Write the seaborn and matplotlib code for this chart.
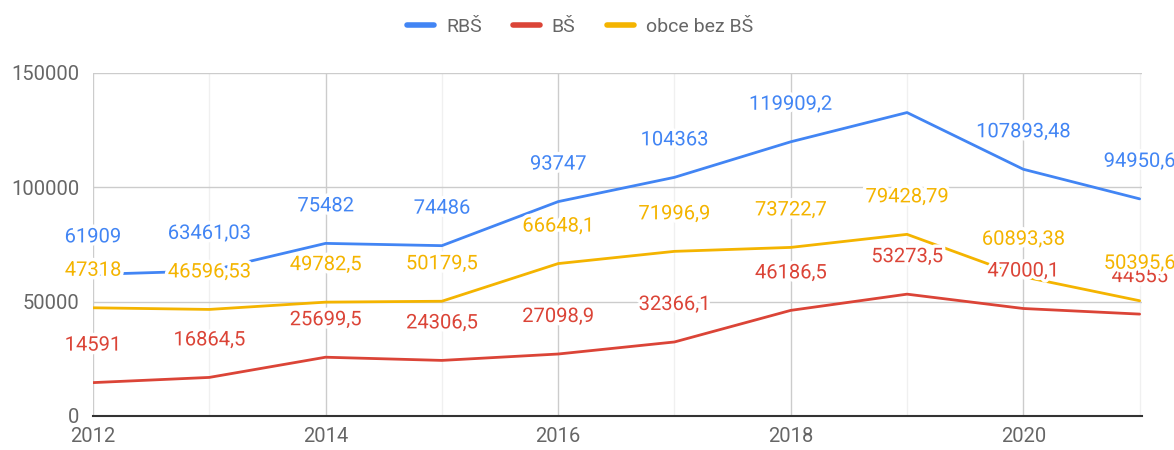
import pandas as pd
import seaborn as sns
import matplotlib.pyplot as plt
import matplotlib.patheffects as pe
from matplotlib.lines import Line2D

years = [2012, 2013, 2014, 2015, 2016, 2017, 2018, 2019, 2020, 2021]
rbs = [61909, 63461.03, 75482, 74486, 93747, 104363, 119909.2, 132702.29, 107893.48, 94950.6]
bs = [14591, 16864.5, 25699.5, 24306.5, 27098.9, 32366.1, 46186.5, 53273.5, 47000.1, 44555]
obce = [47318, 46596.53, 49782.5, 50179.5, 66648.1, 71996.9, 73722.7, 79428.79, 60893.38, 50395.6]

series = ["RBŠ", "BŠ", "obce bez BŠ"]
colors = ["#4285f4", "#db4437", "#f4b400"]
# the chart leaves out the RBŠ label for 2019
hidden_labels = {("RBŠ", 2019)}

df = pd.concat([
    pd.DataFrame({"rok": years, "hodnota": vals, "serie": name})
    for name, vals in zip(series, [rbs, bs, obce])
])

sns.set_theme(style="white")
plt.rcParams["font.family"] = ["Roboto", "DejaVu Sans"]

fig = plt.figure(figsize=(11.74, 4.5), dpi=100)
ax = fig.add_axes([0.0792, 0.0756, 0.8935, 0.7622])

sns.lineplot(data=df, x="rok", y="hodnota", hue="serie", hue_order=series,
             palette=colors, linewidth=2.0, ax=ax, legend=False, zorder=3)

def fmt(v):
    s = f"{v:.2f}".rstrip("0").rstrip(".")
    return s.replace(".", ",")

for name, col in zip(series, colors):
    sub = df[df["serie"] == name]
    for x, y in zip(sub["rok"], sub["hodnota"]):
        if (name, x) in hidden_labels:
            continue
        ax.annotate(fmt(y), (x, y), xytext=(0, 27), textcoords="offset points",
                    ha="center", va="center", fontsize=14.5, color=col, zorder=5,
                    annotation_clip=False,
                    path_effects=[pe.withStroke(linewidth=5, foreground="white")])

ax.set_xlim(2012, 2021.02)
ax.set_ylim(0, 150000)
ax.set_xticks([2012, 2014, 2016, 2018, 2020])
ax.set_xticks([2013, 2015, 2017, 2019, 2021], minor=True)
ax.set_yticks([0, 50000, 100000, 150000])
ax.set_yticklabels(["0", "50000", "100000", "150000"])
ax.grid(True, which="major", color="#cccccc", linewidth=1.0, zorder=0)
ax.grid(True, which="minor", axis="x", color="#f0f0f0", linewidth=1.0, zorder=0)
ax.tick_params(axis="both", which="both", length=0, labelsize=14.5, labelcolor="#666666")
ax.tick_params(axis="y", pad=10)
ax.tick_params(axis="x", pad=8)
ax.set_xlabel("")
ax.set_ylabel("")
for side in ["top", "right", "left"]:
    ax.spines[side].set_visible(False)
ax.spines["bottom"].set_color("#333333")
ax.spines["bottom"].set_linewidth(1.5)
ax.spines["bottom"].set_zorder(4)

handles = [Line2D([0], [0], color=c, linewidth=4) for c in colors]
fig.legend(handles, series, loc="center", bbox_to_anchor=(0.494, 0.94), ncol=3,
           frameon=False, fontsize=14, labelcolor="#666666",
           handlelength=1.4, handletextpad=0.6, columnspacing=1.6)

fig.savefig("out.png", dpi=100)
